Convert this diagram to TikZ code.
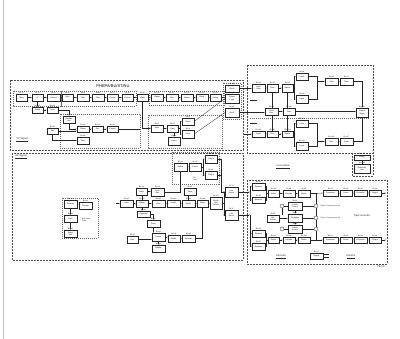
\documentclass[tikz,border=0pt]{standalone}
\usepackage{fontspec}
\setmainfont{Liberation Sans}
\usetikzlibrary{arrows.meta}
\tikzset{
  bx/.style={draw=black!85, line width=0.3pt, fill=white, inner sep=0.1pt, align=center,
             font=\fontsize{1.9}{2.1}\selectfont},
  hdr/.style={inner sep=0.15pt, font=\fontsize{1.8}{2}\selectfont, text=black},
  pnl/.style={draw=black!70, line width=0.35pt, dash pattern=on 2pt off 1pt},
  grp/.style={draw=black!60, line width=0.3pt, dash pattern=on 1pt off 1pt},
  ln/.style={draw=black!85, line width=0.3pt},
  ar/.style={ln, -{Latex[length=1.3pt,width=1pt]}},
  ring/.style={circle, draw=black!85, line width=0.3pt, fill=white, minimum size=4pt, inner sep=0pt},
  captxt/.style={inner sep=0.3pt, font=\fontsize{2.6}{3}\selectfont, text=black!85},
  smalltxt/.style={inner sep=0.2pt, font=\fontsize{1.8}{2}\selectfont, text=black!85, align=left},
}
\newcommand\bx[6]{%
  \node[bx, minimum width={(#4-#2)*1pt}, minimum height={(#5-#3)*1pt},
        label={[hdr]north:BL-#1}] (#1) at ({(#2+#4)/2},{(#3+#5)/2}) {#6};}
\begin{document}
\begin{tikzpicture}[x=1pt,y=-1pt]
\useasboundingbox (0,0) rectangle (400,339);
\fill[white] (0,0) rectangle (400,339);
\draw[black!25, line width=0.6pt] (3,0) -- (3,339);

% ---------- panels ----------
\draw[pnl] (10,80) rectangle (243,150);
\draw[pnl] (247,65) rectangle (373,153);
\draw[pnl] (352,153) -- (352,176) -- (373,176) -- (373,153);
\draw[pnl] (12,153) rectangle (243,260);
\draw[pnl] (247,180) rectangle (387,264);

\node[font=\fontsize{4}{4.5}\selectfont, inner sep=0.3pt] (title) at (113,86) {PHEPA/BU/ST/NU};
\node[captxt] (tvlab) at (22,140) {\underline{TV-Signal}};
\node[captxt] (avlab) at (21,156.5) {\underline{AV-Signal}};
\node[captxt] (uvlab) at (283,167) {\underline{ul-sensitive}};
\node[captxt] (declab) at (281,257) {\underline{Decoder}};
\node[captxt] (monlab) at (351,257) {\underline{Monitor}};
\node[captxt] (tapelab) at (362,216) {Tape recorder};
\node[captxt] (tblab) at (381,267) {TB-XX};

% ---------- groups ----------
\draw[grp] (13,91) rectangle (61,106);
\draw[grp] (61,91) rectangle (136,106);
\draw[grp] (149,91) rectangle (224,105);
\draw[grp] (223,83) rectangle (241,119);
\draw[grp] (60,114) rectangle (140,148);
\draw[grp] (148,115) rectangle (222,148);
\draw[grp] (250,118) -- (370,118);
\draw[grp] (62,198) rectangle (98,238);
\draw[grp] (172,152) rectangle (219,184);

% ---------- top panel ----------
\bx{t1}{16}{94}{27}{101}{Tuner}
\bx{t2}{32}{94}{43}{101}{IF}
\bx{t3}{47}{94}{60}{101}{Demod}
\bx{t4}{62}{94}{73}{101}{Sync}
\bx{t5}{77}{94}{89}{101}{Filter}
\bx{t6}{92}{94}{104}{101}{Filter}
\bx{t7}{107}{94}{118}{101}{Control}
\bx{t8}{122}{94}{133}{101}{Control}
\bx{t9}{137}{94}{148}{101}{Mixer}
\bx{t10}{151}{94}{163}{101}{Clamp}
\bx{t11}{166}{94}{178}{101}{Gain}
\bx{t12}{181}{94}{193}{101}{Matrix}
\bx{t13}{196}{94}{208}{101}{Delay}
\bx{t14}{210}{94}{221}{101}{Switch}
\bx{t15}{32}{107}{43}{113}{Sound}
\bx{t16}{47}{107}{58}{113}{Level}
\bx{g1}{225}{85}{239}{92}{Out A}
\bx{g2}{225}{94}{239}{103}{Select\\Logic}
\bx{g3}{225}{108}{239}{117}{Out B}

\bx{b1}{63}{116}{75}{123}{Decode\\Line}
\bx{b2}{47}{128}{58}{134}{Ref}
\bx{b3}{77}{126}{89}{132}{Phase}
\bx{b4}{92}{126}{103}{132}{Osc}
\bx{b5}{107}{126}{118}{132}{Control}
\bx{b6}{77}{137}{89}{144}{Timer}

\bx{l1}{151}{125}{163}{132}{Sync}
\bx{l2}{167}{125}{178}{132}{Gate}
\bx{l3}{182}{118}{194}{125}{Pulse}
\bx{l4}{182}{130}{194}{138}{Pulse}
\bx{l5}{168}{137}{180}{145}{Count}

\draw[ar] (t1) -- (t2);
\draw[ar] (t2) -- (t3);
\draw[ar] (t3) -- (t4);
\draw[ar] (t4) -- (t5);
\draw[ar] (t5) -- (t6);
\draw[ar] (t6) -- (t7);
\draw[ar] (t7) -- (t8);
\draw[ar] (t8) -- (t9);
\draw[ar] (t9) -- (t10);
\draw[ar] (t10) -- (t11);
\draw[ar] (t11) -- (t12);
\draw[ar] (t12) -- (t13);
\draw[ar] (t13) -- (t14);
\draw[ar] (t14) -- (t14 -| g2.west);
\draw[ar] (t2.south) -- (t15.north);
\draw[ar] (t15) -- (t16);
\draw[ar] (t16.east) -| (b1.north);
\draw[ar] (b1.south) |- (b3.west);
\draw[ar] (b2.east) -- (b2.east -| b3.west);
\draw[ar] (b3) -- (b4);
\draw[ar] (b4) -- (b5);
\draw[ar] (b2.south) |- (b6.west);
\coordinate (bout) at (140,129);
\draw[ln] (b5) -- (bout);
\draw[ar] (t9.south) |- (l1.west);
\draw[ar] (l1) -- (l2);
\draw[ar] (l2.east) -- ++(2,0) |- (l3.west);
\draw[ar] (l2.east) -- ++(2,0) |- (l4.west);
\draw[ar] (l2.south -| l5.north) -- (l5.north);
\draw[ar] (l3.east) -- (g2.west);
\draw[ar] (l4.east) -- (g3.west);

% ---------- top-right panel ----------
\bx{u1}{252}{84}{265}{92}{Input\\Amp}
\bx{u2}{267}{84}{278}{92}{Filter}
\bx{u3}{282}{84}{293}{92}{Detect}
\bx{u4}{296}{73}{308}{80}{Level}
\bx{u5}{296}{95}{308}{103}{Level}
\bx{u6}{325}{78}{338}{85}{Sum}
\bx{u7}{340}{78}{353}{85}{Store}
\bx{u8}{265}{108}{278}{115}{Clock\\Gen}
\bx{u9}{283}{108}{295}{115}{Timer}
\bx{u10}{356}{108}{368}{117}{Output\\Stage}
\bx{u11}{252}{131}{265}{137}{Input}
\bx{u12}{267}{131}{278}{137}{Filter}
\bx{u13}{282}{131}{293}{137}{Detect}
\bx{u14}{296}{120}{308}{127}{Level}
\bx{u15}{296}{142}{308}{150}{Level}
\bx{u16}{325}{138}{338}{145}{Sum}
\bx{u17}{340}{138}{353}{145}{Store}
\bx{u18}{354}{155}{370}{160}{Supply}
\bx{u19}{354}{164}{370}{173}{Reference\\Unit}

\draw[ar] (g1) -- (g1 -| u1.west);
\draw[ar] (g3) -- (g3 -| u8.west);
\coordinate (uin) at (244,134);
\draw[ar] (uin) -- (u11.west);
\draw[ar] (u1) -- (u2);
\draw[ar] (u2) -- (u3);
\draw[ar] (u3.east) -- ++(1.2,0) |- (u4.west);
\draw[ar] (u3.east) -- ++(1.2,0) |- (u5.west);
\coordinate (j1) at (317,81.5);
\draw[ln] (u4.east) -| (j1);
\draw[ln] (u5.east) -| (j1);
\draw[ar] (j1) -- (u6.west);
\draw[ar] (u6) -- (u7);
\draw[ar] (u7.east) -| (u10.north);
\draw[ar] (u11) -- (u12);
\draw[ar] (u12) -- (u13);
\draw[ar] (u13.east) -- ++(1.2,0) |- (u14.west);
\draw[ar] (u13.east) -- ++(1.2,0) |- (u15.west);
\coordinate (j2) at (317,141.5);
\draw[ln] (u14.east) -| (j2);
\draw[ln] (u15.east) -| (j2);
\draw[ar] (j2) -- (u16.west);
\draw[ar] (u16) -- (u17);
\draw[ar] (u17.east) -| (u10.south);
\draw[ar] (u8) -- (u9);
\draw[ar] (u9.east) -- (u9.east -| u10.west);
\draw[ln] (u2.south) -- (u2.south |- u8.north);
\draw[ln] (u12.north) -- (u12.north |- u8.south);
\draw[ln] (u3.south) -- (u3.south |- u9.north);
\draw[ln] (u13.north) -- (u13.north |- u9.south);
\coordinate (s1a) at (250,100);
\coordinate (s1b) at (257,100);
\coordinate (s2a) at (250,123);
\coordinate (s2b) at (257,123);
\draw[ln] (s1a) -- (s1b);
\draw[ln] (s2a) -- (s2b);
\draw[ln] (u18) -- (u19);

% ---------- bottom-left panel ----------
\bx{a1}{64}{200}{77}{208}{Memory}
\bx{a2}{79}{202}{92}{209}{Counter}
\bx{a3}{64}{215}{77}{222}{Gate}
\node[smalltxt] (atext) at (86,220) {Wait-Loop\\Timer};
\bx{a4}{64}{230}{77}{237}{Reset\\Unit}
\draw[ar] (a1) -- (a1 -| a2.west);
\draw[ar] (a1) -- (a3);
\draw[ar] (a3) -- (a4);

\bx{m1}{120}{200}{133}{207}{Input}
\bx{m2}{136}{200}{148}{207}{Clamp}
\bx{m3}{152}{200}{165}{207}{Filter}
\bx{m4}{167}{200}{180}{207}{Amplif.}
\bx{m5}{182}{200}{195}{207}{Matrix}
\bx{m6}{197}{200}{208}{207}{Delay}
\bx{m7}{210}{197}{222}{209}{Switch\\Unit\\Select}
\bx{n1}{136}{188}{147}{195}{Level}
\bx{n2}{151}{188}{164}{196}{Sync\\Sep.}
\bx{n3}{184}{188}{196}{195}{Gate}
\bx{p1}{174}{163}{187}{171}{Detect}
\bx{p2}{189}{163}{201}{171}{Count}
\bx{p3}{205}{155}{217}{163}{Output}
\bx{p4}{205}{171}{217}{179}{Output}
\node[smalltxt] (ptext) at (195,179) {Ref.\\Level};
\bx{r1}{225}{187}{238}{197}{Line\\Driver}
\bx{r2}{225}{210}{238}{220}{Line\\Driver}
\bx{q0}{127}{236}{138}{243}{Gen.}
\bx{q1}{137}{211}{150}{217}{Compute}
\bx{q2}{147}{220}{160}{227}{Store}
\bx{q3}{152}{233}{165}{241}{Control}
\bx{q4}{152}{245}{165}{252}{Display}
\bx{q5}{168}{235}{180}{242}{Modul.}
\bx{q6}{182}{235}{195}{242}{Encoder}

\coordinate (ain) at (116,203.5);
\draw[ar] (ain) -- (m1);
\draw[ar] (m1) -- (m2);
\draw[ar] (m2) -- (m3);
\draw[ar] (m3) -- (m4);
\draw[ar] (m4) -- (m5);
\draw[ar] (m5) -- (m6);
\draw[ar] (m6) -- (m6 -| m7.west);
\draw[ar] (m7.east) -- ++(1.5,0) |- (r1.west);
\draw[ar] (m7.east) -- ++(1.5,0) |- (r2.west);
\draw[ar] (m2.north) -- (m2.north |- n1.south);
\draw[ar] (n1) -- (n1 -| n2.west);
\draw[ar] (n2.east) -| (p1.south);
\draw[ar] (p1) -- (p2);
\draw[ar] (p2.east) -- ++(1.5,0) |- (p3.west);
\draw[ar] (p2.east) -- ++(1.5,0) |- (p4.west);
\draw[ar] (p3.east) -- ++(4,0) |- (r1.west);
\draw[ln] (p4.east) -- ++(4,0);
\draw[ar] (m5.north) -- (m5.north |- n3.south);
\draw[ar] (m2.south) -- (m2.south |- q1.north);
\draw[ar] (q1.east) -| (q2.north);
\draw[ar] (q2.south) -- (q2.south |- q3.north);
\draw[ar] (q0.east) -- (q0.east -| q3.west);
\draw[ar] (q3.east) -- (q3.east -| q5.west);
\draw[ar] (q5) -- (q6);
\draw[ar] (q6.east) -| (m6.south);
\draw[ar] (q3) -- (q4);

% ---------- bottom-right panel ----------
\bx{d1}{252}{183}{265}{190}{Receiver}
\bx{d2}{252}{197}{265}{203}{Receiver}
\bx{d3}{268}{190}{279}{197}{Select}
\bx{d4}{283}{190}{295}{197}{Decode}
\bx{d5}{298}{190}{310}{197}{Matrix}
\bx{e1}{323}{190}{338}{196}{Processor}
\bx{e2}{340}{190}{352}{196}{Driver}
\bx{e3}{354}{190}{367}{196}{Converter}
\bx{e4}{369}{190}{381}{196}{Output}
\bx{d6}{252}{230}{265}{237}{Receiver}
\bx{d7}{252}{243}{265}{250}{Receiver}
\bx{d8}{268}{237}{279}{243}{Select}
\bx{d9}{283}{237}{295}{243}{Decode}
\bx{d10}{298}{237}{310}{243}{Matrix}
\bx{h1}{323}{237}{338}{243}{Processor}
\bx{h2}{340}{237}{352}{243}{Driver}
\bx{h3}{354}{237}{367}{243}{Converter}
\bx{h4}{369}{237}{381}{243}{Output}
\bx{f1}{288}{202}{302}{210}{Colour\\Control}
\bx{f2}{267}{215}{279}{222}{Ref.\\Source}
\bx{f3}{288}{214}{302}{222}{Compare}
\bx{f4}{288}{225}{302}{233}{Colour\\Control}
\bx{s1}{310}{253}{323}{259}{Supply}
\node[ring] (c1) at (282,206) {};
\node[ring] (c2) at (282,229) {};
\node[ring] (k1) at (316,206) {};
\node[ring] (k2) at (316,218) {};
\node[ring] (k3) at (316,229) {};
\node[smalltxt, anchor=west] (kt1) at (320,206) {Colour Transparency rep.};
\node[smalltxt, anchor=west] (kt2) at (320,218) {Colour Transparency rep.};

\coordinate (br1) at (250,192);
\coordinate (br2) at (250,215);
\draw[ar] (r1.east) -- (br1);
\draw[ar] (r2.east) -- (br2);
\draw[ar] (br1) |- (d1.west);
\draw[ar] (br1) |- (d2.west);
\draw[ar] (br2) |- (d6.west);
\draw[ar] (br2) |- (d7.west);
\coordinate (jd1) at (266,193.5);
\draw[ln] (d1.east) -| (jd1);
\draw[ln] (d2.east) -| (jd1);
\draw[ln] (jd1) -- (d3.west);
\coordinate (jd2) at (266,240);
\draw[ln] (d6.east) -| (jd2);
\draw[ln] (d7.east) -| (jd2);
\draw[ln] (jd2) -- (d8.west);
\draw[ar] (d3) -- (d4);
\draw[ar] (d4) -- (d5);
\draw[ar] (d8) -- (d9);
\draw[ar] (d9) -- (d10);
\coordinate (jr1) at (316,193.5);
\coordinate (jr2) at (316,240);
\draw[ln] (d5) -- (jr1);
\draw[ar] (jr1) -- (e1.west);
\draw[ln] (d10) -- (jr2);
\draw[ar] (jr2) -- (h1.west);
\draw[ln] (jr1) -- (k1) -- (k2) -- (k3) -- (jr2);
\draw[ar] (e1) -- (e2);
\draw[ar] (e2) -- (e3);
\draw[ar] (e3) -- (e4);
\draw[ar] (h1) -- (h2);
\draw[ar] (h2) -- (h3);
\draw[ar] (h3) -- (h4);
\coordinate (eout) at (386,193);
\coordinate (hout) at (386,240);
\draw[ar] (e4) -- (eout);
\draw[ar] (h4) -- (hout);
\draw[ln] (c1) -- (c1 -| f1.west);
\draw[ln] (c2) -- (c2 -| f4.west);
\draw[ln] (c1) -- (c1 |- f2.north);
\draw[ar] (f2) -- (f2 -| f3.west);
\draw[ar] (f1) -- (f3);
\draw[ar] (f3) -- (f4);
\draw[ln] (f1.east) -- (f1.east -| k1.west);
\draw[ln] (f3.east) -- (f3.east -| k2.west);
\draw[ln] (f4.east) -- (f4.east -| k3.west);
\coordinate (so1) at (329,254.5);
\coordinate (so2) at (329,257.5);
\draw[ln] (s1.east |- so1) -- (so1);
\draw[ln] (s1.east |- so2) -- (so2);
\end{tikzpicture}
\end{document}
